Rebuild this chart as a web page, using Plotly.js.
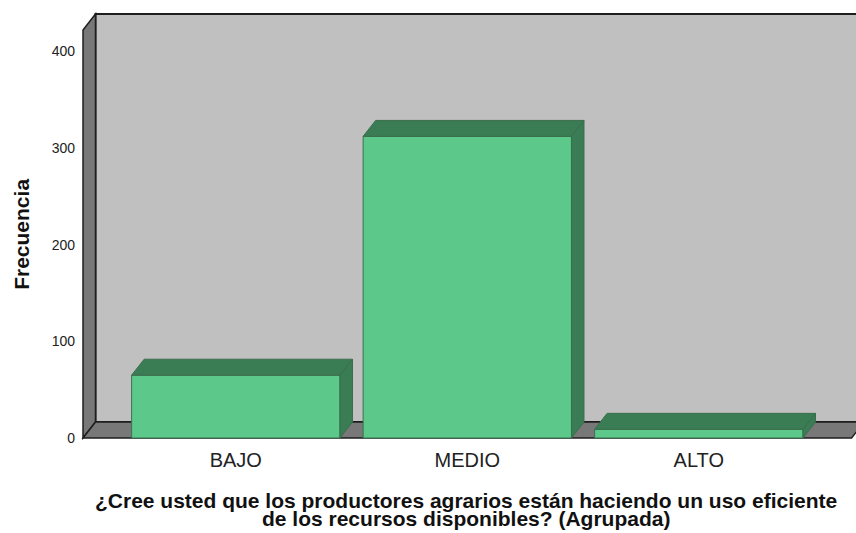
<!DOCTYPE html>
<html>
<head>
<meta charset="utf-8">
<script src="https://cdn.plot.ly/plotly-3.0.1.min.js"></script>
<style>
  html, body { margin: 0; padding: 0; background: #ffffff; }
  #chart { width: 856px; height: 533px; }
</style>
</head>
<body>
<div id="chart"></div>
<script>
// Frequency of answers, grouped
const categories = ['BAJO', 'MEDIO', 'ALTO'];
const frecuencia = [65, 312, 9];
const yTicks = [0, 100, 200, 300, 400];
const yTitle = 'Frecuencia';
const xTitleLines = [
  '¿Cree usted que los productores agrarios están haciendo un uso eficiente',
  'de los recursos disponibles? (Agrupada)'
];

// Pseudo-3D geometry (axis units)
const BAR_W = 0.9;          // bar width in category units
const DX = 0.054;           // depth offset along x
const DY = 16.5;            // depth offset along y
const X_FRONT_L = -0.66;    // front-left corner of the floor
const X_FRONT_R = 2.66;     // front-right corner of the floor
const Y_BACK_TOP = 438.6;   // top edge of the back wall
const X_RANGE = [-0.673, 2.679];
const Y_RANGE = [-2.07, 442.7];

const FRONT = '#5cc98a';
const SHADE = '#3a7c54';
const EDGE = '#3b6e4e';
const WALL = '#c0c0c0';
const SIDE = '#787878';
const LINE = '#1e1e1e';

const xs = categories.map((c, i) => i);

const traces = [];

// front faces of the bars
traces.push({
  type: 'bar',
  x: xs,
  y: frecuencia,
  width: BAR_W,
  marker: { color: FRONT, line: { color: EDGE, width: 1 } },
  hoverinfo: 'skip',
  showlegend: false
});

// top and right faces of each bar
xs.forEach((x, i) => {
  const v = frecuencia[i];
  const l = x - BAR_W / 2, r = x + BAR_W / 2;
  traces.push({
    type: 'scatter', mode: 'lines', fill: 'toself', fillcolor: SHADE,
    x: [l, l + DX, r + DX, r, l],
    y: [v, v + DY, v + DY, v, v],
    line: { color: EDGE, width: 1 }, hoverinfo: 'skip', showlegend: false
  });
  traces.push({
    type: 'scatter', mode: 'lines', fill: 'toself', fillcolor: SHADE,
    x: [r, r, r + DX, r + DX, r],
    y: [0, v, v + DY, DY, 0],
    line: { color: EDGE, width: 1 }, hoverinfo: 'skip', showlegend: false
  });
});

// walls and floor of the box
const shapes = [
  { type: 'rect', layer: 'below', xref: 'x', yref: 'y',
    x0: X_FRONT_L + DX, x1: X_RANGE[1] + 1, y0: DY, y1: Y_BACK_TOP,
    fillcolor: WALL, line: { color: LINE, width: 2 } },
  { type: 'path', layer: 'below', xref: 'x', yref: 'y',
    path: `M ${X_FRONT_L} 0 L ${X_FRONT_L} ${Y_BACK_TOP - DY} L ${X_FRONT_L + DX} ${Y_BACK_TOP} L ${X_FRONT_L + DX} ${DY} Z`,
    fillcolor: SIDE, line: { color: LINE, width: 1.5 } },
  { type: 'path', layer: 'below', xref: 'x', yref: 'y',
    path: `M ${X_FRONT_L} 0 L ${X_FRONT_L + DX} ${DY} L ${X_FRONT_R + DX} ${DY} L ${X_FRONT_R} 0 Z`,
    fillcolor: SIDE, line: { color: LINE, width: 1.5 } }
];

const font = 'Liberation Sans, Arial, sans-serif';

const annotations = [
  { text: '<b>' + yTitle + '</b>', xref: 'paper', yref: 'paper',
    x: -0.0763, y: 0.479, xanchor: 'center', yanchor: 'middle',
    textangle: -90, showarrow: false, font: { family: font, size: 21, color: '#111' } },
  { text: '<b>' + xTitleLines[0] + '</b>', xref: 'paper', yref: 'paper',
    x: 0.497, y: -0.141, xanchor: 'center', yanchor: 'middle',
    showarrow: false, font: { family: font, size: 21, color: '#111' } },
  { text: '<b>' + xTitleLines[1] + '</b>', xref: 'paper', yref: 'paper',
    x: 0.497, y: -0.183, xanchor: 'center', yanchor: 'middle',
    showarrow: false, font: { family: font, size: 21, color: '#111' } }
];

const layout = {
  width: 856, height: 533,
  margin: { l: 80, r: 0, t: 10, b: 93, pad: 0 },
  paper_bgcolor: '#ffffff', plot_bgcolor: '#ffffff',
  showlegend: false,
  bargap: 0,
  xaxis: {
    range: X_RANGE, tickvals: xs, ticktext: categories,
    showgrid: false, zeroline: false, showline: false, ticks: '',
    tickfont: { family: font, size: 20, color: '#222' },
    ticklabelstandoff: 6, fixedrange: true
  },
  yaxis: {
    range: Y_RANGE, tickvals: yTicks,
    showgrid: false, zeroline: false, showline: false, ticks: '',
    tickfont: { family: font, size: 14, color: '#222' },
    ticklabelstandoff: 4, fixedrange: true
  },
  shapes: shapes,
  annotations: annotations
};

Plotly.newPlot('chart', traces, layout, { displayModeBar: false, staticPlot: true });
</script>
</body>
</html>
